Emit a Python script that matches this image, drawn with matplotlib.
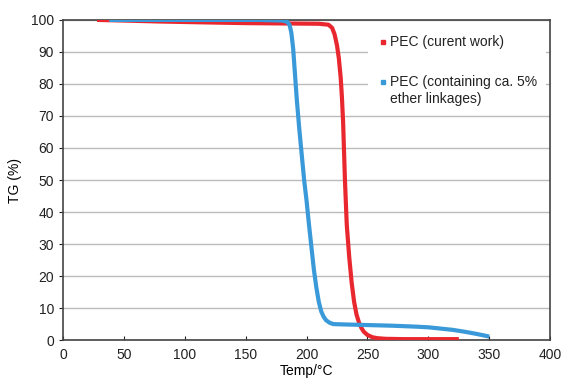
import matplotlib
matplotlib.use("Agg")
import matplotlib.pyplot as plt
from matplotlib.patches import Rectangle

plt.rcParams['font.family'] = ['Liberation Sans', 'DejaVu Sans']

# PEC (current work)
red_temp = [28, 50, 80, 120, 150, 180, 210, 218, 221, 223, 225, 226.5, 228, 229, 230,
            231.5, 233, 235, 237, 239, 241, 243, 245, 247, 250, 254, 258, 265, 280, 300, 325]
red_tg = [100, 99.8, 99.5, 99.2, 99.0, 98.9, 98.8, 98.5, 97.5, 95.5, 92, 88, 82, 76, 68,
          50, 36, 26, 18, 12, 8, 5.5, 3.8, 2.6, 1.6, 0.9, 0.6, 0.4, 0.3, 0.3, 0.3]

# PEC (containing ca. 5% ether linkages)
blue_temp = [38, 80, 120, 160, 180, 184, 186, 187.5, 189, 190.5, 192, 194, 196, 198, 200,
             202, 204, 206, 208, 210, 212, 214, 216, 219, 222, 230, 250, 270, 290, 300,
             310, 320, 330, 340, 350]
blue_tg = [100, 100, 100, 100, 99.8, 99.4, 98.5, 96, 91, 83, 75, 66, 58, 50, 43.5,
           36, 29, 22, 16.5, 12, 9, 7.3, 6.2, 5.4, 5.0, 4.9, 4.7, 4.5, 4.2, 4.0,
           3.6, 3.2, 2.6, 1.9, 1.1]

labels = [["PEC (curent work)"], ["PEC (containing ca. 5%", "ether linkages)"]]
red = "#e8282e"
blue = "#3a9ad9"

fig = plt.figure(figsize=(5.62, 3.83), dpi=100)
ax = fig.add_axes([0.112, 0.112, 0.867, 0.836])

ax.plot(red_temp, red_tg, color=red, lw=3, solid_capstyle='butt', zorder=3)
ax.plot(blue_temp, blue_tg, color=blue, lw=3, solid_capstyle='butt', zorder=4)

ax.set_xlim(0, 400)
ax.set_ylim(0, 100)
ax.set_xticks(range(0, 401, 50))
ax.set_yticks(range(0, 101, 10))
ax.grid(axis='y', color='#bbbbbb', lw=1)
ax.set_axisbelow(True)
for s in ax.spines.values():
    s.set_color('#444444')
    s.set_linewidth(1.2)
ax.tick_params(axis='x', direction='in', length=3, labelsize=10, colors='#222222', pad=6)
ax.tick_params(axis='y', direction='out', length=3, labelsize=10, colors='#222222')
ax.set_xlabel("Temp/°C", fontsize=10, labelpad=1)
ax.set_ylabel("TG (%)", fontsize=10, labelpad=6)

# legend drawn by hand: white box, small square markers beside the first text line
ax.add_patch(Rectangle((0.626, 0.725), 0.366, 0.244, transform=ax.transAxes,
                       facecolor='white', edgecolor='none', zorder=2))
for ym, col, lines in zip([0.931, 0.806], [red, blue], labels):
    ax.plot([0.657], [ym], marker='s', ms=2.6, color=col, ls='none',
            transform=ax.transAxes, zorder=5)
    for k, line in enumerate(lines):
        ax.text(0.671, ym - 0.054 * k, line, transform=ax.transAxes, fontsize=10,
                color='#222222', va='center', ha='left', zorder=5)

fig.savefig("out.png", dpi=100)
